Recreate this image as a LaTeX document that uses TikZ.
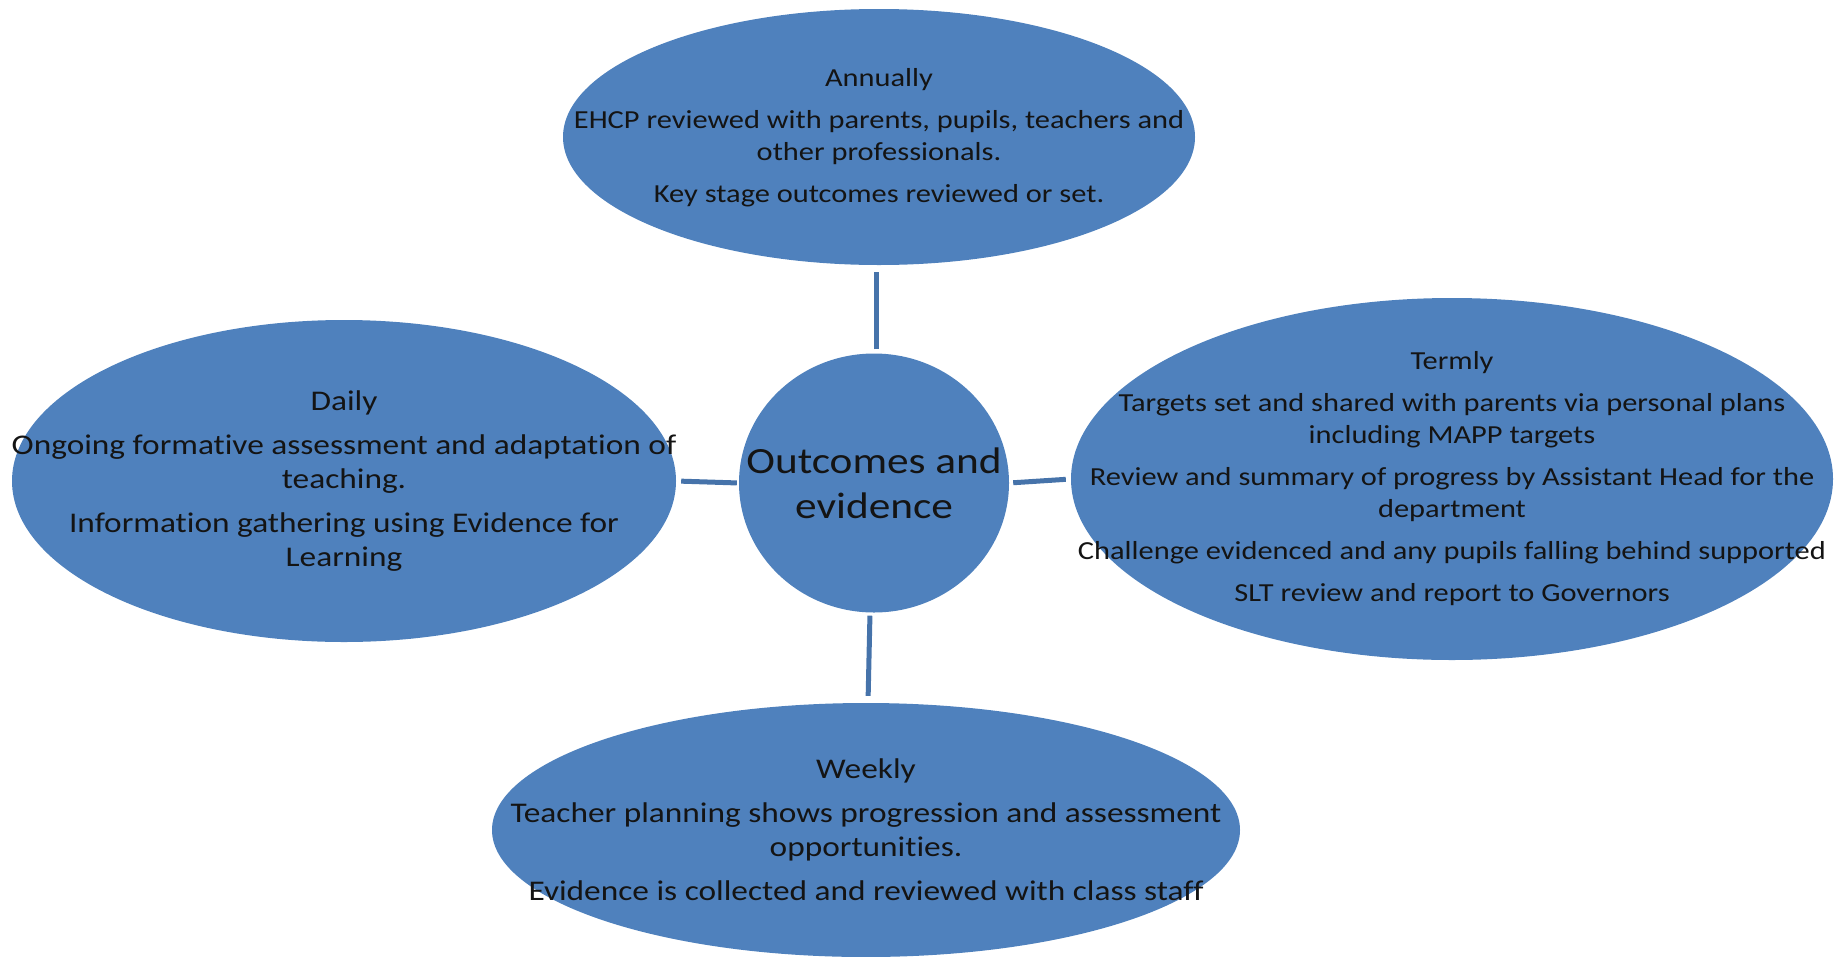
\documentclass[tikz,border=0pt]{standalone}
\usepackage{fontspec}
\setmainfont[FakeStretch=1.17, RawFeature={-liga}]{Carlito}
\usetikzlibrary{shapes.geometric}
\definecolor{obl}{RGB}{79,129,189}
\definecolor{oline}{RGB}{70,115,170}
\definecolor{txt}{RGB}{20,20,20}
\tikzset{
  blob/.style={ellipse, fill=obl, draw=none, inner sep=0pt},
  btext/.style={align=center, text=txt, inner sep=0pt, font=\fontsize{26}{32}\selectfont},
  btextl/.style={align=center, text=txt, inner sep=0pt, font=\fontsize{28.5}{34}\selectfont},
  link/.style={draw=oline, line width=5pt}
}
\begin{document}
\begin{tikzpicture}[x=1pt,y=-1pt]
\useasboundingbox (0,0) rectangle (1847,956);
\node[blob, minimum width=632pt, minimum height=256pt] (top) at (879,137) {};
\node[blob, minimum width=664pt, minimum height=322pt] (left) at (344,481) {};
\node[blob, minimum width=762pt, minimum height=362pt] (right) at (1452,479) {};
\node[blob, minimum width=748pt, minimum height=254pt] (bot) at (866,830) {};
\node[blob, minimum width=270pt, minimum height=259pt] (mid) at (874,483) {};

\node[btext] (toptext) at ([yshift=-1pt]top.center) {Annually\\[10pt]EHCP reviewed with parents, pupils, teachers and\\other professionals.\\[10pt]Key stage outcomes reviewed or set.};
\node[btextl] (lefttext) at (left.center) {Daily\\[10pt]Ongoing formative assessment and adaptation of\\teaching.\\[10pt]Information gathering using Evidence for\\Learning};
\node[btext] (righttext) at (right.center) {Termly\\[10pt]Targets set and shared with parents via personal plans\\including MAPP targets\\[10pt]Review and summary of progress by Assistant Head for the\\department\\[10pt]Challenge evidenced and any pupils falling behind supported\\[10pt]SLT review and report to Governors};
\node[btextl] (bottext) at (bot.center) {Weekly\\[10pt]Teacher planning shows progression and assessment\\opportunities.\\[10pt]Evidence is collected and reviewed with class staff};
\node[align=center, text=txt, inner sep=0pt, font=\fontsize{37}{45}\selectfont] (midtext) at (mid.center) {Outcomes and\\evidence};

\coordinate (tn) at ([xshift=2pt]mid.north);
\coordinate (bs) at ([xshift=-4pt]mid.south);
\coordinate (bn) at ([xshift=-6pt]mid.south |- bot.north);
\draw[link, shorten <=4pt, shorten >=7pt] (tn) -- (tn |- top.south);
\draw[link, shorten <=3pt, shorten >=7pt] (bs) -- (bn);
\draw[link, shorten <=2pt, shorten >=5pt] (mid.west) -- (left.east);
\draw[link, shorten <=4pt, shorten >=5pt] (mid.east) -- (right.west);
\end{tikzpicture}
\end{document}
